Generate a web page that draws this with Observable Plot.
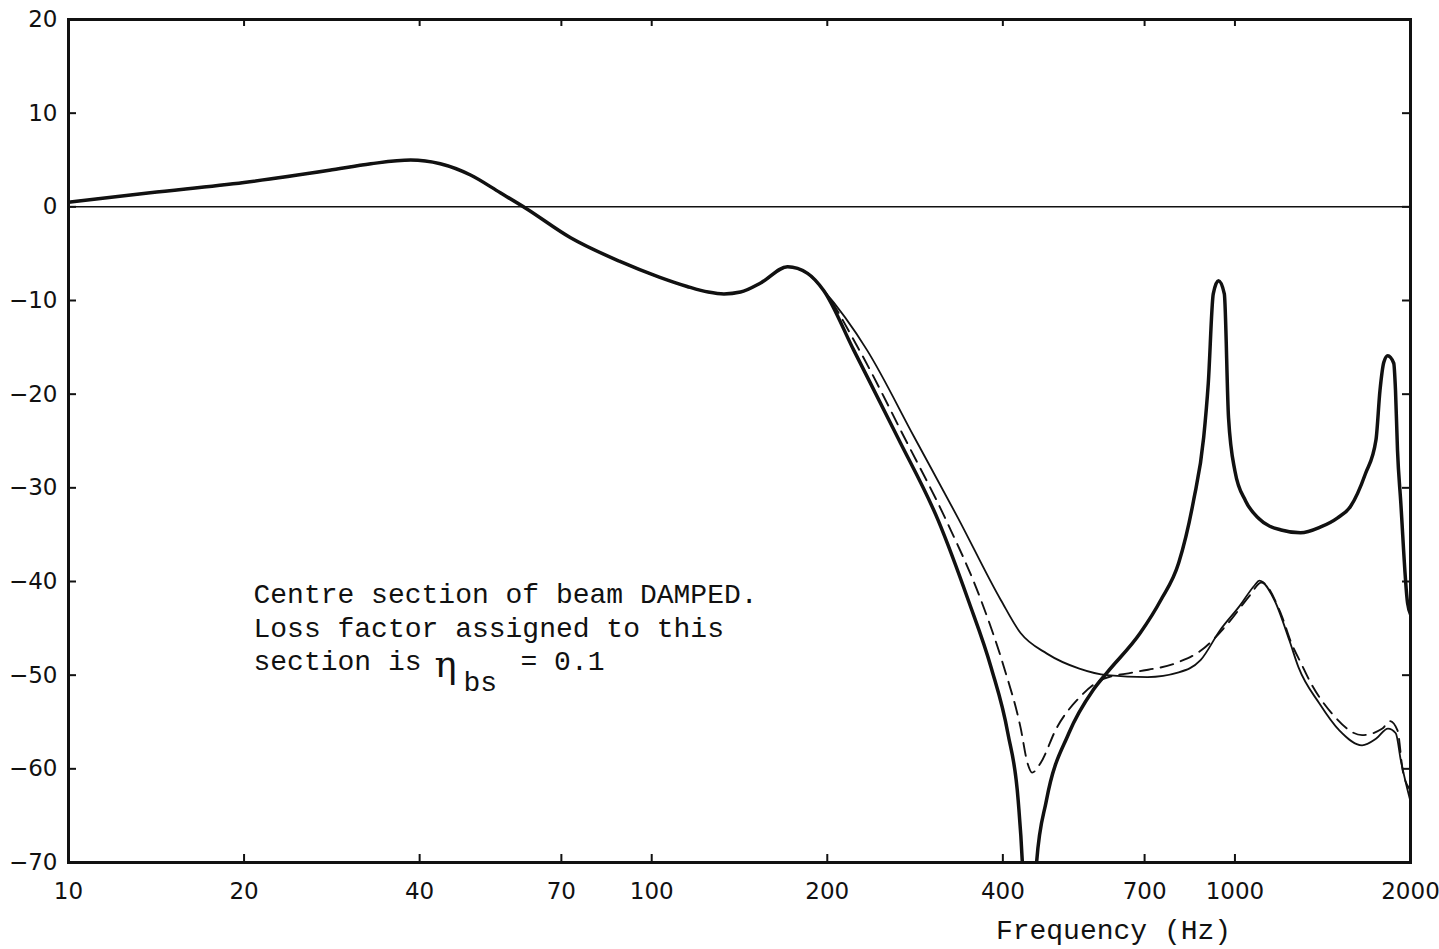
<!DOCTYPE html>
<html>
<head>
<meta charset="utf-8">
<script src="https://cdn.jsdelivr.net/npm/d3@7"></script>
<script src="https://cdn.jsdelivr.net/npm/@observablehq/plot@0.6"></script>
<style>
  body { margin: 0; background: #fff; }
  #chart svg { display: block; }
</style>
</head>
<body>
<div id="chart"></div>
<script>
// ---- Data ----
// Part common to all three curves (Hz, dB)
const sharedFreq  = [10, 13.8, 20, 28, 33, 38.6, 43.4, 48.9, 55, 61, 72.6, 88, 103, 115, 125, 133, 142, 154, 171, 185, 197];
const sharedLevel = [0.5, 1.5, 2.6, 3.9, 4.6, 5.0, 4.6, 3.4, 1.5, -0.2, -3.3, -5.8, -7.5, -8.5, -9.1, -9.3, -9.1, -8.1, -6.4, -7.1, -8.9];

// Thick solid curve
const thickFreq  = [222, 264, 310, 349, 382, 408, 425, 432, 444, 457, 475, 519, 571, 604, 688, 746, 801, 849, 884, 900, 918, 937, 959, 975, 1000, 1043, 1100, 1200, 1296, 1400, 1500, 1578, 1674, 1745, 1773, 1800, 1828, 1872, 1885, 1900, 1924, 1977, 2000];
const thickLevel = [-15.3, -24.6, -33.5, -42, -49.2, -56.2, -63.4, -70, -95, -70, -63.4, -56.2, -51.6, -49.7, -45.5, -42, -38, -31.4, -24.6, -18.9, -9.3, -7.9, -9.3, -22.5, -28.2, -31.4, -33.3, -34.5, -34.8, -34.2, -33.2, -32, -28.5, -24.9, -19.6, -16.6, -15.9, -16.7, -19.6, -26, -31.4, -42.3, -43.5];

// Dashed curve
const dashFreq  = [227, 271, 320, 367, 402, 429, 441, 449, 464, 495, 541, 595, 670, 801, 873, 981, 1060, 1110, 1200, 1250, 1300, 1343, 1467, 1652, 1790, 1844, 1900, 1940, 2000];
const dashLevel = [-15.3, -24.6, -33.5, -42, -49.2, -55.6, -59.4, -60.4, -59.4, -55.6, -52.4, -50.4, -49.7, -48.6, -47.4, -44.2, -41.5, -40.1, -43.5, -46.6, -48.8, -50.6, -54.1, -56.4, -55.7, -54.9, -55.9, -60.2, -62.3];

// Thin solid curve
const thinFreq  = [234, 282, 335, 397, 429, 476, 541, 604, 708, 801, 873, 943, 1019, 1081, 1101, 1169, 1240, 1286, 1395, 1510, 1652, 1745, 1830, 1887, 1925, 2000];
const thinLevel = [-15.3, -24.6, -33.2, -42, -45.5, -47.7, -49.3, -50, -50.2, -49.7, -48.4, -45.2, -42.6, -40.4, -39.9, -42, -46.3, -49.2, -53, -55.9, -57.5, -56.8, -55.7, -56.2, -59.1, -63.5];

// Axes
const xTickValues = [10, 20, 40, 70, 100, 200, 400, 700, 1000, 2000];
const xTickMarks  = [20, 40, 70, 100, 200, 400, 700, 1000];
const yTickValues = [20, 10, 0, -10, -20, -30, -40, -50, -60, -70];
const xLabel = "Frequency (Hz)";
const noteLines = ["Centre section of beam DAMPED.", "Loss factor assigned to this", "section is"];
const etaSymbol = "η";
const etaSub = "bs";
const etaValue = "= 0.1";

// ---- Build tables ----
function series(freq, level) {
  const rows = sharedFreq.map((f, i) => ({f, v: sharedLevel[i]}));
  return rows.concat(freq.map((f, i) => ({f, v: level[i]})));
}
const thick = series(thickFreq, thickLevel);
const dashed = series(dashFreq, dashLevel);
const thin = series(thinFreq, thinLevel);

const W = 1439, H = 949;
const mL = 68, mR = 29, mT = 19, mB = 87;
const plotW = W - mL - mR, plotH = H - mT - mB;
const ink = "#111";
const mono = "Liberation Mono";
const lineGap = 33.5;

const chart = Plot.plot({
  width: W,
  height: H,
  marginLeft: mL,
  marginRight: mR,
  marginTop: mT,
  marginBottom: mB,
  style: {fontSize: "23px", fontFamily: "DejaVu Sans", color: ink, background: "#fff"},
  x: {type: "log", domain: [10, 2000], axis: null},
  y: {domain: [-70, 20], ticks: yTickValues, tickSize: 0, tickPadding: 11, label: null},
  marks: [
    Plot.ruleY([0], {stroke: ink, strokeWidth: 1.5}),
    Plot.line(thin, {x: "f", y: "v", stroke: ink, strokeWidth: 1.8, curve: "monotone-x", clip: true}),
    Plot.line(dashed, {x: "f", y: "v", stroke: ink, strokeWidth: 1.9, strokeDasharray: "13,8", curve: "monotone-x", clip: true}),
    Plot.line(thick, {x: "f", y: "v", stroke: ink, strokeWidth: 3.5, curve: "monotone-x", clip: true}),
    // inward ticks
    Plot.tickY(yTickValues, {y: d => d, stroke: ink, strokeWidth: 2, insetRight: plotW - 8}),
    Plot.tickY(yTickValues, {y: d => d, stroke: ink, strokeWidth: 2, insetLeft: plotW - 8}),
    Plot.tickX(xTickMarks, {x: d => d, stroke: ink, strokeWidth: 2, insetTop: plotH - 8}),
    Plot.tickX(xTickMarks, {x: d => d, stroke: ink, strokeWidth: 2, insetBottom: plotH - 7}),
    Plot.frame({stroke: ink, strokeWidth: 3}),
    // x tick labels
    Plot.text(xTickValues, {x: d => d, text: d => String(d), frameAnchor: "bottom", lineAnchor: "middle", dy: 29, fontSize: 23, fill: ink}),
    // x axis title
    Plot.text([xLabel], {text: d => d, frameAnchor: "bottom", lineAnchor: "middle", dx: 374, dy: 68, fontFamily: mono, fontSize: 28, fill: ink}),
    // annotation, one text per line
    ...noteLines.map((line, i) =>
      Plot.text([line], {text: d => d, frameAnchor: "top-left", textAnchor: "start", lineAnchor: "middle", dx: 185, dy: 575 + i * lineGap, fontFamily: mono, fontSize: 28, fill: ink})
    ),
    Plot.text([etaSymbol], {text: d => d, frameAnchor: "top-left", textAnchor: "start", lineAnchor: "middle", dx: 366, dy: 646, fontFamily: "DejaVu Serif", fontSize: 37, fill: ink}),
    Plot.text([etaSub], {text: d => d, frameAnchor: "top-left", textAnchor: "start", lineAnchor: "middle", dx: 395, dy: 663, fontFamily: mono, fontSize: 28, fill: ink}),
    Plot.text([etaValue], {text: d => d, frameAnchor: "top-left", textAnchor: "start", lineAnchor: "middle", dx: 452, dy: 642, fontFamily: mono, fontSize: 28, fill: ink})
  ]
});
document.getElementById("chart").appendChild(chart);
</script>
</body>
</html>
